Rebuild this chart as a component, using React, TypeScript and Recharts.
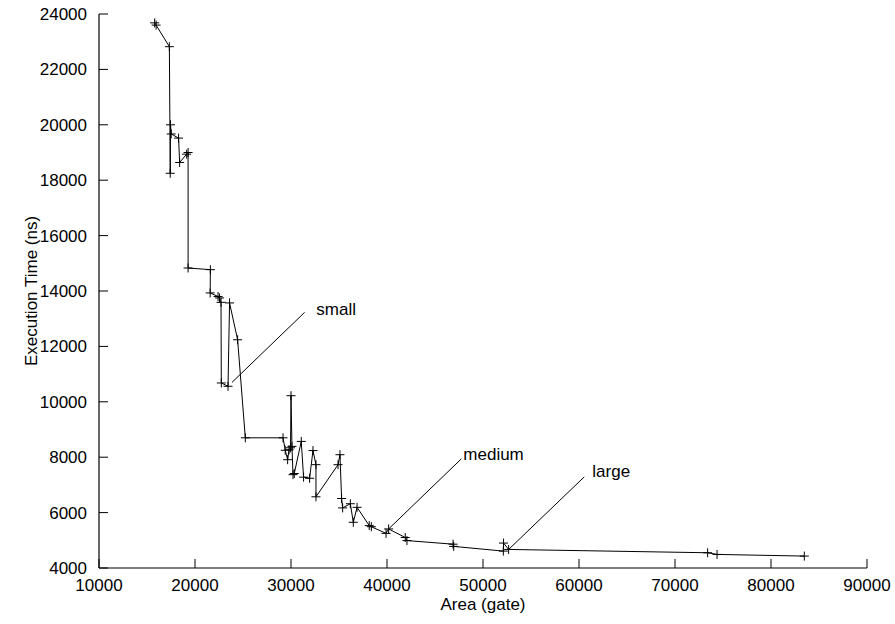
import { LineChart, Line, XAxis, YAxis, ReferenceLine, ReferenceDot } from "recharts";

const areaGates = [
  15800, 15950, 17330, 17420, 17450, 17520, 18290, 18400, 19130, 19280, 19280, 21600, 21580, 22400, 22560,
  22710, 22740, 23440, 23600, 24440, 25240, 29170, 29400, 29650, 29800, 29950, 30000, 30100, 30210, 30340,
  31070, 31310, 31940, 32290, 32600, 32600, 34900, 35100, 35270, 35380, 36180, 36490, 36880, 38150, 38370,
  39900, 40170, 41900, 42080, 46880, 46950, 52120, 52140, 52670, 73400, 74380, 83470,
];

const execTimes = [
  23680, 23600, 22820, 18250, 20000, 19670, 19520, 18640, 18940, 19000, 14830, 14770, 13930, 13800, 13750,
  13590, 10680, 10560, 13570, 12240, 8700, 8700, 8250, 7910, 8270, 8340, 10220, 8390, 7370, 7410,
  8570, 7280, 7240, 8240, 7730, 6570, 7730, 8090, 6510, 6170, 6320, 5650, 6190, 5530, 5490,
  5250, 5410, 5100, 4990, 4860, 4780, 4610, 4900, 4670, 4550, 4490, 4430,
];

const xTicks = [10000, 20000, 30000, 40000, 50000, 60000, 70000, 80000, 90000];
const yTicks = [4000, 6000, 8000, 10000, 12000, 14000, 16000, 18000, 20000, 22000, 24000];

// annotation pointers: [from x, from y, to x, to y] and label anchor
const noteNames = ["small", "medium", "large"];
const noteLines = [
  [23850, 10700, 31420, 13230],
  [40170, 5410, 47740, 7940],
  [52670, 4670, 60550, 7290],
];
const noteLabels = [
  [32640, 13140],
  [47950, 7910],
  [61390, 7300],
];

const FONT = "'Liberation Sans', Arial, Helvetica, sans-serif";
const tickStyle = { fontSize: 17, fill: "#000", fontFamily: FONT };

const data = areaGates.map((area, i) => ({ area, time: execTimes[i] }));

const PlusDot = (props: any) => {
  const { cx, cy, index } = props;
  if (cx == null || cy == null) return <g key={index} />;
  return (
    <path
      key={index}
      d={`M${cx - 4.5},${cy}H${cx + 4.5}M${cx},${cy - 4.5}V${cy + 4.5}`}
      stroke="#000"
      strokeWidth={1}
      fill="none"
    />
  );
};

const YTitle = (props: any) => {
  const vb = props.viewBox || {};
  const cx = 31;
  const cy = vb.y + vb.height / 2;
  return (
    <text
      x={cx}
      y={cy}
      transform={`rotate(-90 ${cx} ${cy})`}
      textAnchor="middle"
      dominantBaseline="central"
      fontSize={17}
      fontFamily={FONT}
      fill="#000"
    >
      Execution Time (ns)
    </text>
  );
};

const XTitle = (props: any) => {
  const vb = props.viewBox || {};
  return (
    <text
      x={vb.x + vb.width / 2}
      y={vb.y + vb.height - 14}
      textAnchor="middle"
      fontSize={17}
      fontFamily={FONT}
      fill="#000"
    >
      Area (gate)
    </text>
  );
};

export default function App() {
  return (
    <div style={{ position: "absolute", left: 0, top: 0, width: 895, height: 624, background: "#fff" }}>
      <LineChart width={895} height={624} data={data} margin={{ top: 14, right: 28, bottom: 0, left: 0 }}>
        <XAxis
          xAxisId="bottom"
          dataKey="area"
          type="number"
          domain={[10000, 90000]}
          ticks={xTicks}
          interval={0}
          height={56}
          tickSize={-9}
          tickMargin={20}
          tick={tickStyle}
          axisLine={{ stroke: "#000", strokeWidth: 1.2 }}
          tickLine={{ stroke: "#000" }}
          label={{ content: XTitle }}
        />
        <XAxis
          xAxisId="top"
          orientation="top"
          dataKey="area"
          type="number"
          domain={[10000, 90000]}
          ticks={xTicks}
          interval={0}
          height={0}
          tickSize={-9}
          tick={false}
          axisLine={{ stroke: "#000", strokeWidth: 1.2 }}
          tickLine={{ stroke: "#000" }}
        />
        <YAxis
          yAxisId="left"
          type="number"
          domain={[4000, 24000]}
          ticks={yTicks}
          interval={0}
          width={99}
          tickSize={-9}
          tickMargin={21}
          tick={tickStyle}
          axisLine={{ stroke: "#000", strokeWidth: 1.2 }}
          tickLine={{ stroke: "#000" }}
          label={{ content: YTitle }}
        />
        <YAxis
          yAxisId="right"
          orientation="right"
          type="number"
          domain={[4000, 24000]}
          ticks={yTicks}
          interval={0}
          width={0}
          tickSize={-9}
          tick={false}
          axisLine={{ stroke: "#000", strokeWidth: 1.2 }}
          tickLine={{ stroke: "#000" }}
        />
        {noteLines.map((seg, i) => (
          <ReferenceLine
            key={noteNames[i]}
            xAxisId="bottom"
            yAxisId="left"
            segment={[
              { x: seg[0], y: seg[1] },
              { x: seg[2], y: seg[3] },
            ]}
            stroke="#000"
            strokeWidth={1}
          />
        ))}
        {noteLabels.map((pos, i) => (
          <ReferenceDot
            key={noteNames[i] + "-label"}
            xAxisId="bottom"
            yAxisId="left"
            x={pos[0]}
            y={pos[1]}
            r={0}
            shape={(p: any) => (
              <text x={p.cx} y={p.cy} fontSize={17} fontFamily={FONT} fill="#000">
                {noteNames[i]}
              </text>
            )}
          />
        ))}
        <Line
          xAxisId="bottom"
          yAxisId="left"
          type="linear"
          dataKey="time"
          stroke="#000"
          strokeWidth={1}
          dot={PlusDot}
          activeDot={false}
          isAnimationActive={false}
        />
      </LineChart>
    </div>
  );
}
